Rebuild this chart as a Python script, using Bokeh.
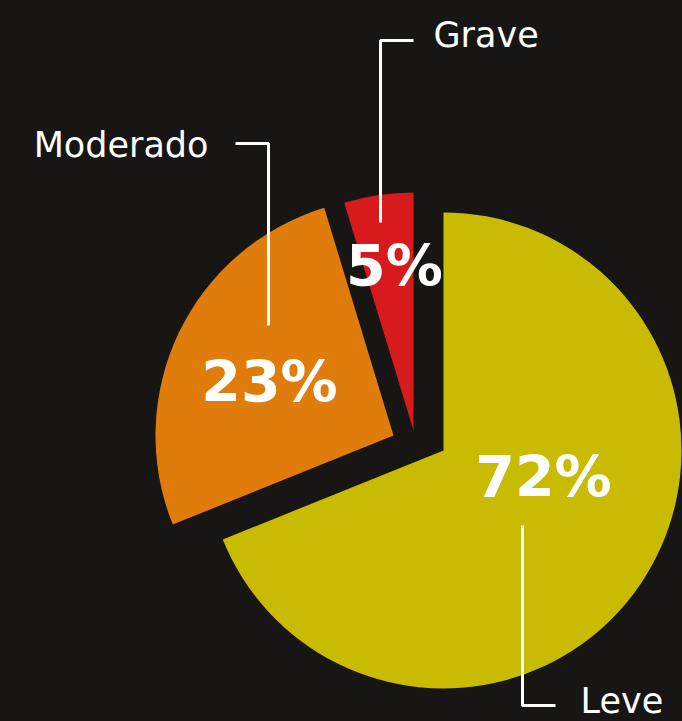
import math
from bokeh.plotting import figure
from bokeh.models import Range1d, ColumnDataSource
from bokeh.core.properties import value
from bokeh.embed import file_html
from bokeh.resources import INLINE

# ---- data ----
categories = ["Grave", "Moderado", "Leve"]
label_pct = ["5%", "23%", "72%"]            # printed values
drawn_share = [4.7, 26.4, 68.9]             # slice sizes as drawn (percent of circle)
colors = ["#D71A1C", "#E07C0C", "#C9BA02"]

BG = "#171615"
W, H = 682, 721

# layout (screen-like coords, y up: y = 721 - screen_y)
base_cx, base_cy = 413, 291
R = 238
offsets = {"Grave": (0, 0), "Moderado": (-20, -5), "Leve": (30, -20)}

p = figure(width=W, height=H, x_range=Range1d(0, 682), y_range=Range1d(0, 721),
           output_backend="svg", toolbar_location=None, min_border=0)
p.background_fill_color = BG
p.border_fill_color = BG
p.outline_line_color = None
p.axis.visible = False
p.grid.visible = False

# wedges, counter-clockwise from 12 o'clock
start = 90.0
xs, ys, sa, ea = [], [], [], []
for cat, share in zip(categories, drawn_share):
    span = share / 100.0 * 360.0
    dx, dy = offsets[cat]
    xs.append(base_cx + dx)
    ys.append(base_cy + dy)
    sa.append(math.radians(start))
    ea.append(math.radians(start + span))
    start += span

src = ColumnDataSource(dict(x=xs, y=ys, start=sa, end=ea, color=colors, cat=categories))
p.wedge(x="x", y="y", radius=R, start_angle="start", end_angle="end",
        direction="anticlock", fill_color="color", line_color=None, source=src)

# percent labels
pct_pos = {"Grave": (394, 456), "Moderado": (269, 340), "Leve": (543, 245)}
p.text(x=[pct_pos[c][0] for c in categories], y=[pct_pos[c][1] for c in categories],
       text=label_pct, text_color="white", text_font=value("DejaVu Sans"),
       text_font_style="bold", text_font_size="57px", text_align="center",
       text_baseline="alphabetic")

# leader lines
leaders = {
    "Grave": ([413, 380, 380], [681, 681, 499]),
    "Moderado": ([235, 268, 268], [578, 578, 396]),
    "Leve": ([522, 522, 555], [196, 16, 16]),
}
for c in categories:
    lx, ly = leaders[c]
    p.line(lx, ly, line_color="white", line_width=3)

# category labels
name_pos = {"Grave": (433, 687, "left"), "Moderado": (208, 577, "right"), "Leve": (580, 21, "left")}
for c in categories:
    x, y, al = name_pos[c]
    p.text(x=[x], y=[y], text=[c], text_color="white", text_font=value("DejaVu Sans"),
           text_font_size="35px", text_align=al, text_baseline="alphabetic")

html = file_html(p, INLINE)
html = html.replace("<head>", "<head><style>html,body{background:%s;}</style>" % BG, 1)
open("out.html", "w").write(html)
